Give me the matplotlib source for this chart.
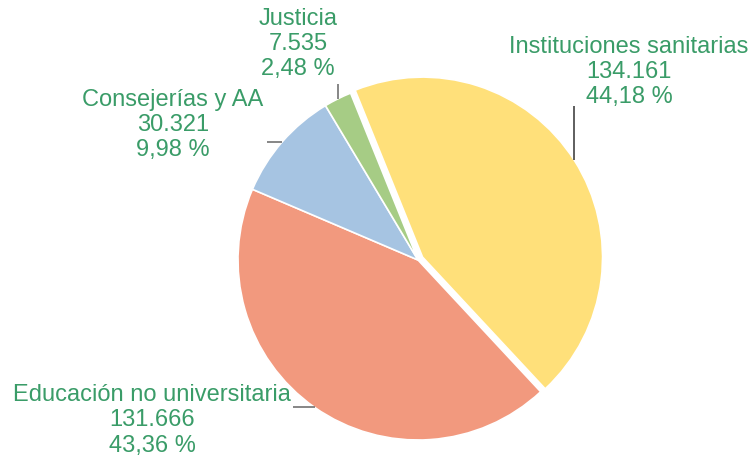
import numpy as np
import matplotlib.pyplot as plt

# Datos del gráfico
categorias = ['Instituciones sanitarias', 'Educación no universitaria',
              'Consejerías y AA', 'Justicia']
valores = [134161, 131666, 30321, 7535]
colores = ['#FFE07A', '#F2997E', '#A6C4E2', '#A6CC85']

# Posición de cada etiqueta (centro del bloque, en unidades del radio)
pos_etiquetas = [(1.172, 1.044), (-1.478, -0.89), (-1.361, 0.75), (-0.667, 1.2)]
# Guía: dirección ('v' vertical, 'h' horizontal) y longitud
guias = [('v', 0.30), ('h', 0.12), ('h', 0.083), ('v', 0.083)]
color_guias = ['#333333', '#666666', '#666666', '#666666']
explode = [0.03, 0, 0, 0]

verde = '#3A9C68'
plt.rcParams['font.family'] = ['Liberation Sans', 'DejaVu Sans']


def miles(n):
    return f'{n:,}'.replace(',', '.')


fig = plt.figure(figsize=(7.51, 4.57), dpi=100)
ax = fig.add_axes([0, 0, 1, 1])

wedges, _ = ax.pie(valores, colors=colores, startangle=112, counterclock=False,
                   explode=explode, radius=1,
                   wedgeprops=dict(edgecolor='white', linewidth=1.2))

total = sum(valores)
for i, w in enumerate(wedges):
    ang = np.deg2rad((w.theta1 + w.theta2) / 2)
    cx, cy = w.center
    x0, y0 = cx + np.cos(ang), cy + np.sin(ang)
    d, largo = guias[i]
    if d == 'v':
        x1, y1 = x0, y0 + largo
    else:
        x1, y1 = x0 - largo, y0
    ax.plot([x0, x1], [y0, y1], color=color_guias[i], lw=1.1, solid_capstyle='butt')

    pct = f'{100 * valores[i] / total:.2f}'.replace('.', ',')
    texto = f'{categorias[i]}\n{miles(valores[i])}\n{pct} %'
    ax.text(*pos_etiquetas[i], texto, ha='center', va='center', multialignment='center',
            fontsize=17, color=verde, linespacing=1.2)

ax.set_xlim(-418 / 180, (751 - 418) / 180)
ax.set_ylim((260 - 457) / 180, 260 / 180)
ax.set_aspect('auto')
ax.axis('off')

fig.savefig('out.png', dpi=100)
